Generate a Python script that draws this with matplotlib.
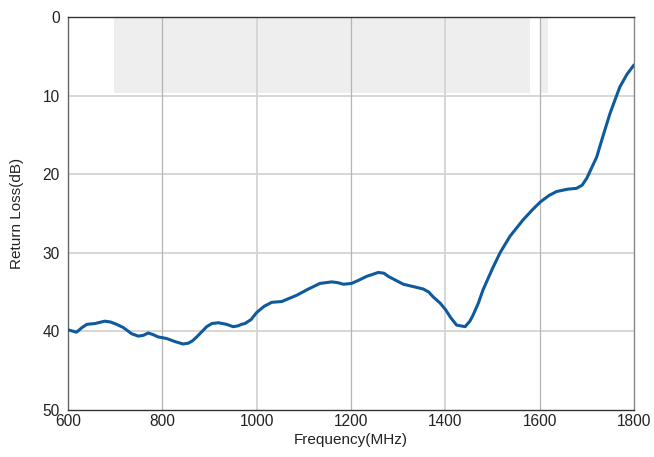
import matplotlib
matplotlib.use("Agg")
import matplotlib.pyplot as plt
from matplotlib.patches import Rectangle

# curve (MHz, dB)
freq = [600, 618, 630, 640, 657, 678, 690, 703, 717, 735, 749, 760, 770, 780, 791, 809, 827, 844, 855,
        864, 873, 894, 905, 919, 936, 950, 960, 968, 975, 988, 1000, 1016, 1032, 1053, 1085, 1110, 1134, 1159, 1172, 1184,
        1201, 1216, 1233, 1258, 1270, 1279, 1295, 1311, 1325, 1353, 1365, 1374, 1389, 1400, 1412, 1424, 1442, 1452, 1459,
        1470, 1480, 1500, 1516, 1537, 1565, 1585, 1602, 1620, 1636, 1660, 1678, 1690, 1700, 1721, 1735, 1749, 1760,
        1770, 1785, 1800]
return_loss = [39.8, 40.1, 39.5, 39.1, 39.0, 38.7, 38.8, 39.1, 39.5, 40.3, 40.6, 40.5, 40.2, 40.4, 40.7, 40.9, 41.3, 41.6, 41.5,
               41.2, 40.7, 39.4, 39.0, 38.9, 39.1, 39.4, 39.3, 39.1, 39.0, 38.5, 37.6, 36.8, 36.3, 36.2, 35.4, 34.6, 33.9, 33.7, 33.8, 34.0,
               33.9, 33.5, 33.0, 32.5, 32.6, 33.0, 33.5, 34.0, 34.2, 34.6, 35.0, 35.6, 36.4, 37.2, 38.3, 39.2, 39.4, 38.7, 37.9,
               36.4, 34.7, 32.0, 30.0, 27.9, 25.8, 24.5, 23.5, 22.7, 22.2, 21.9, 21.8, 21.4, 20.5, 17.8, 15.0, 12.3, 10.5,
               8.9, 7.3, 6.1]

# shaded bands (MHz start, MHz end, depth in dB)
band_start = [697, 1602]
band_end = [1579, 1617]
band_depth = [9.7, 9.7]

x_ticks = [600, 800, 1000, 1200, 1400, 1600, 1800]
y_ticks = [0, 10, 20, 30, 40, 50]

plt.rcParams["font.family"] = ["Liberation Sans", "DejaVu Sans"]

fig = plt.figure(figsize=(6.54, 4.57), dpi=100)
ax = fig.add_axes([68 / 654, 1 - 410 / 457, (634 - 68) / 654, (410 - 17) / 457])

for x0, x1, d in zip(band_start, band_end, band_depth):
	ax.add_patch(Rectangle((x0, 0), x1 - x0, d, facecolor="#eeeeee", edgecolor="none", zorder=0))

for y in y_ticks[1:-1]:
	ax.axhline(y, color="#d6d6d6", linewidth=1.4, zorder=1)
for x in x_ticks[1:-1]:
	if x in (1000, 1400):
		ax.axvline(x, color="#d6d6d6", linewidth=1.4, zorder=1)
	else:
		ax.axvline(x, color="#b4b4b4", linewidth=0.9, zorder=1)

ax.plot(freq, return_loss, color="#0f5a9c", linewidth=2.2, zorder=3,
	solid_capstyle="round", solid_joinstyle="round")

ax.set_xlim(600, 1800)
ax.set_ylim(50, 0)
ax.set_xticks(x_ticks)
ax.set_yticks(y_ticks)
ax.tick_params(length=0, labelsize=11.2, colors="#222222")
ax.tick_params(axis="x", pad=3)
ax.tick_params(axis="y", pad=6)

ax.spines["top"].set_color("#333333")
ax.spines["bottom"].set_color("#333333")
ax.spines["left"].set_color("#666666")
ax.spines["right"].set_color("#888888")
for s in ax.spines.values():
	s.set_linewidth(1.0)

ax.set_xlabel("Frequency(MHz)", fontsize=11, color="#222222", labelpad=3)
ax.set_ylabel("Return Loss(dB)", fontsize=11, color="#222222", labelpad=13)

fig.savefig("out.png", dpi=100)
